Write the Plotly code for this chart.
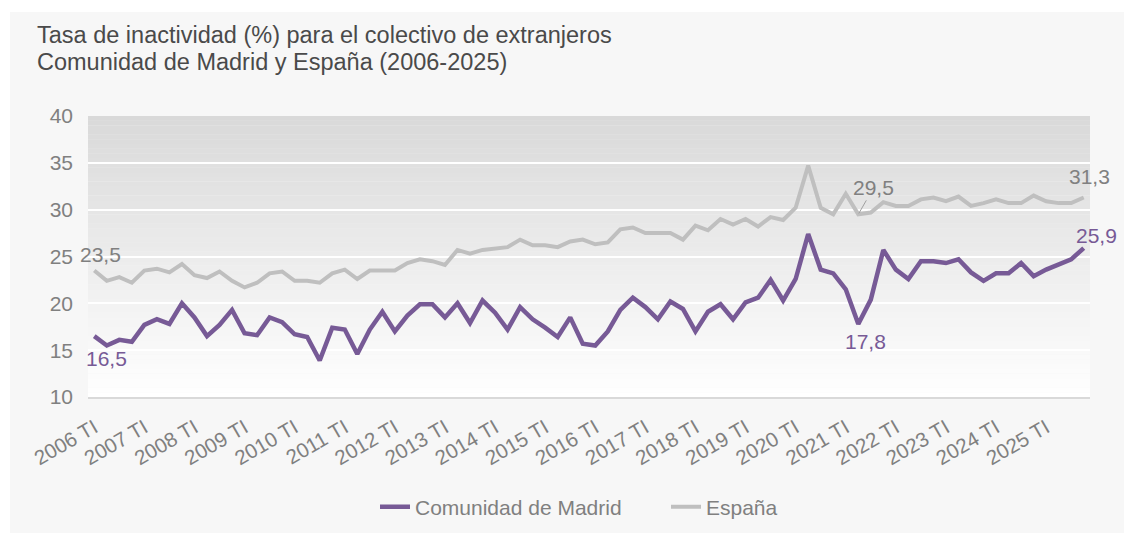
import plotly.graph_objects as go

# ---------------- data ----------------
years = list(range(2006, 2026))
quarters = ["TI", "TII", "TIII", "TIV"]
categories = [f"{y} {q}" for y in years for q in quarters]
tick_labels = [f"{y} TI" for y in years]

madrid = [16.5, 15.5, 16.1, 15.9, 17.7, 18.3, 17.8, 20.0, 18.5, 16.5,
          17.7, 19.3, 16.8, 16.6, 18.5, 18.0, 16.7, 16.4, 13.9, 17.4,
          17.2, 14.6, 17.2, 19.1, 17.0, 18.7, 19.9, 19.9, 18.5, 20.0,
          17.9, 20.3, 19.0, 17.2, 19.6, 18.3, 17.4, 16.4, 18.5, 15.7,
          15.5, 17.0, 19.3, 20.6, 19.6, 18.3, 20.2, 19.4, 17.0, 19.1,
          19.9, 18.3, 20.1, 20.6, 22.5, 20.3, 22.6, 27.4, 23.6, 23.2,
          21.5, 17.8, 20.4, 25.7, 23.6, 22.6, 24.5, 24.5, 24.3, 24.7,
          23.3, 22.4, 23.2, 23.2, 24.3, 22.9, 23.6, 24.1, 24.7, 25.9]

espana = [23.5, 22.4, 22.8, 22.2, 23.5, 23.7, 23.3, 24.2, 23.0, 22.7,
          23.4, 22.4, 21.7, 22.2, 23.2, 23.4, 22.4, 22.4, 22.2, 23.2,
          23.6, 22.6, 23.5, 23.5, 23.5, 24.3, 24.7, 24.5, 24.1, 25.7,
          25.3, 25.7, 25.8, 26.0, 26.8, 26.2, 26.2, 26.0, 26.6, 26.8,
          26.3, 26.5, 27.9, 28.1, 27.5, 27.5, 27.5, 26.8, 28.3, 27.8,
          29.0, 28.4, 29.0, 28.2, 29.2, 28.9, 30.2, 34.7, 30.2, 29.5,
          31.7, 29.5, 29.7, 30.8, 30.4, 30.4, 31.1, 31.3, 30.9, 31.4,
          30.4, 30.7, 31.1, 30.7, 30.7, 31.5, 30.9, 30.7, 30.7, 31.3]

labelled_idx = [0, 61, 79]  # points carrying data labels

title_lines = ["Tasa de inactividad (%) para el colectivo de extranjeros",
               "Comunidad de Madrid y España (2006-2025)"]
series_names = ["Comunidad de Madrid", "España"]

# ---------------- style ----------------
FONT = "Liberation Sans, Arial, sans-serif"
PURPLE = "#775a96"
GREY_LINE = "#bfbfbf"
GREY_TEXT = "#808080"
TITLE_COL = "#4a4a4a"

W, H = 1132, 533
OFF = 8  # page body margin offset
# desired plot area in page pixels: x 88..1090, y 116..397
L = 88 - OFF
T = 116 - OFF
R = W - (1090 - OFF)
B = H - (397 - OFF)
pw, ph = W - L - R, H - T - B


def px_x(px):  # page pixel -> paper x
    return (px - OFF - L) / pw


def px_y(py):  # page pixel -> paper y
    return (H - B - (py - OFF)) / ph


fig = go.Figure()
fig.add_trace(go.Scatter(x=categories, y=madrid, mode="lines", name=series_names[0],
                         line=dict(color=PURPLE, width=4.5)))
fig.add_trace(go.Scatter(x=categories, y=espana, mode="lines", name=series_names[1],
                         line=dict(color=GREY_LINE, width=4)))

shapes = []
# outer light panel
shapes.append(dict(type="rect", xref="paper", yref="paper", layer="below",
                   x0=px_x(10), x1=px_x(W + 20), y0=px_y(H + 20), y1=px_y(12),
                   fillcolor="#f7f7f7", line=dict(width=0)))
# vertical gradient of plot area (white at bottom -> light grey at top)
nb = 60
y_lo, y_hi = 10, 40
for i in range(nb):
    f = (i + 0.5) / nb
    c = round(255 - f * (255 - 217))
    shapes.append(dict(type="rect", xref="paper", yref="y", layer="below",
                       x0=0, x1=1,
                       y0=y_lo + (y_hi - y_lo) * i / nb,
                       y1=y_lo + (y_hi - y_lo) * (i + 1) / nb + 0.02,
                       fillcolor=f"rgb({c},{c},{c})", line=dict(width=0)))


def fmt(v):
    return f"{v:.1f}".replace(".", ",")


annotations = []
# title
for line, cy in zip(title_lines, [35, 62]):
    annotations.append(dict(xref="paper", yref="paper", x=px_x(35), y=px_y(cy),
                            xanchor="left", yanchor="middle", showarrow=False,
                            text=line, font=dict(family=FONT, size=23.5, color=TITLE_COL)))

# data labels (offsets in pixels: dx, dy(down positive))
madrid_off = {0: (12, 22), 61: (7, 18), 79: (12.5, -13)}
espana_off = {0: (6.5, -16.5), 61: (15.5, -27), 79: (5.5, -20.5)}
for i in labelled_idx:
    dx, dy = madrid_off[i]
    annotations.append(dict(x=categories[i], y=madrid[i], xref="x", yref="y",
                            text=fmt(madrid[i]), showarrow=False, xshift=dx, yshift=-dy,
                            font=dict(family=FONT, size=21, color=PURPLE)))
    dx, dy = espana_off[i]
    if i == 61:
        annotations.append(dict(x=categories[i], y=espana[i], xref="x", yref="y",
                                text=fmt(espana[i]), showarrow=True, ax=dx, ay=dy,
                                arrowhead=0, arrowwidth=1, arrowcolor="#a0a0a0",
                                standoff=1,
                                font=dict(family=FONT, size=21, color=GREY_TEXT)))
    else:
        annotations.append(dict(x=categories[i], y=espana[i], xref="x", yref="y",
                                text=fmt(espana[i]), showarrow=False, xshift=dx, yshift=-dy,
                                font=dict(family=FONT, size=21, color=GREY_TEXT)))

fig.update_layout(
    width=W, height=H,
    margin=dict(l=L, r=R, t=T, b=B, autoexpand=False),
    paper_bgcolor="white",
    plot_bgcolor="rgba(0,0,0,0)",
    font=dict(family=FONT, color=GREY_TEXT),
    shapes=shapes,
    annotations=annotations,
    showlegend=True,
    legend=dict(orientation="h", x=px_x(375), y=px_y(507), xanchor="left",
                yanchor="middle", font=dict(family=FONT, size=21, color=GREY_TEXT),
                bgcolor="rgba(0,0,0,0)", entrywidth=246, entrywidthmode="pixels"),
    xaxis=dict(type="category", categoryorder="array", categoryarray=categories,
               range=[-0.5, len(categories) - 0.5],
               tickmode="array", tickvals=[f"{y} TI" for y in years], ticktext=tick_labels,
               tickangle=-30, tickfont=dict(family=FONT, size=20.5, color=GREY_TEXT),
               ticklabelstandoff=9,
               showgrid=False, showline=True, linecolor="#d9d9d9", linewidth=2,
               ticks="", zeroline=False, fixedrange=True),
    yaxis=dict(range=[10, 40], dtick=5, tick0=10, showgrid=True, gridcolor="white",
               gridwidth=2, zeroline=False, showline=False, ticks="",
               tickfont=dict(family=FONT, size=21, color=GREY_TEXT),
               ticklabelstandoff=14, fixedrange=True),
)

fig.write_html("out.html")
